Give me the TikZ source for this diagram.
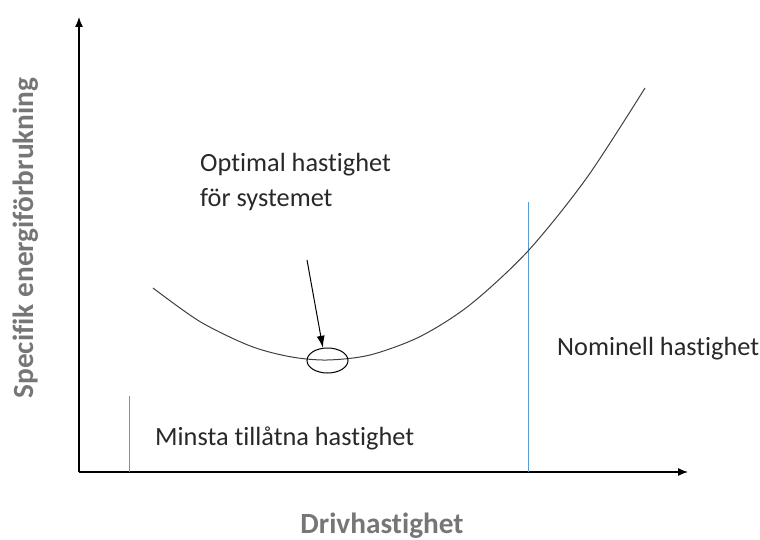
\documentclass[tikz,border=0pt]{standalone}
\usepackage{fontspec}
\setmainfont{Carlito}[Ligatures=NoCommon]
\usetikzlibrary{arrows.meta,shapes.geometric}
\definecolor{axisgray}{RGB}{118,118,118}
\definecolor{limblue}{RGB}{91,155,213}
\definecolor{txtdark}{RGB}{40,40,40}
\tikzset{
  lbl/.style={text=txtdark,inner sep=0pt,font=\fontsize{26.3}{35}\selectfont},
  axlbl/.style={text=axisgray,inner sep=0pt,font=\bfseries\fontsize{29.3}{34}\selectfont},
  axis/.style={line width=1.3pt,-{Latex[length=10pt,width=8pt]}},
  limit/.style={limblue,line width=1pt}
}
\begin{document}
\begin{tikzpicture}[x=1pt,y=-1pt]
                    \useasboundingbox (0,0) rectangle (760,540);
                    % Axes
                    \coordinate (O) at (79,472);
                    \coordinate (Ytop) at (79,17);
                    \coordinate (Xend) at (688,472);
                    \draw [axis] (O) -- (Ytop);
                    \draw [axis] (O) -- (Xend);
                    \node [axlbl,rotate=90,anchor=base] (YL) at (33,238) {Specifik energiförbrukning};
                    \node [axlbl,anchor=base] (XL) at (382,533) {Drivhastighet};
                    % Limits
                    \coordinate (MinT) at (129,396);
                    \coordinate (MinB) at (129,472);
                    \draw [limit] (MinB) -- (MinT);
                    \coordinate (NomT) at (528,202);
                    \coordinate (NomB) at (528,472);
                    \draw [limit] (NomB) -- (NomT);
                    \node [lbl,anchor=base west] (MinL) at (155,445) {Minsta tillåtna hastighet};
                    \node [lbl,anchor=base west] (NomL) at (557,355) {Nominell hastighet};
                    % Curve
                    \draw [black!75,line width=1pt] plot[smooth] coordinates {(153,288) (200,321.6) (250,345.9) (290,356.7) (327,360) (370,355) (420,336.6) (470,304.8) (528,251) (587,177.5) (645,88)};
                    % Optimum
                    \draw (327.5,360.5) node[ellipse,draw,line width=1pt,minimum width=41pt,minimum height=25pt,inner sep=0pt] (Opt) {};
                    \node [lbl,anchor=base west,align=left] (OptL) at (200,207) {Optimal hastighet\\för systemet};
                    \coordinate (OptA) at (307,260);
                    \draw [line width=1pt,-{Latex[length=12pt,width=8pt]}] (OptA) -- (Opt.110);
                \end{tikzpicture}
\end{document}
